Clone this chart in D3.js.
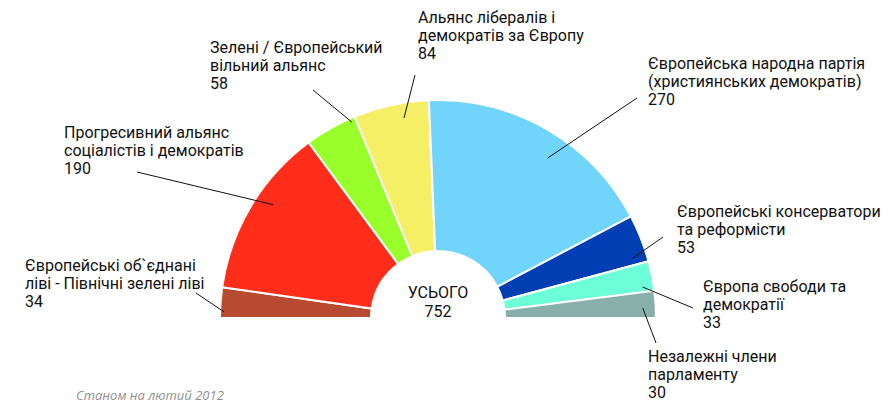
<!DOCTYPE html>
<html><head><meta charset="utf-8">
<script src="https://cdn.jsdelivr.net/npm/d3@7"></script>
<style>
body{margin:0;background:#fff;}
svg{display:block;}
.lbl{font-family:"Roboto","DejaVu Sans Condensed",sans-serif;font-size:16px;fill:#111;}
</style></head>
<body>
<script>
const categories = [
  ["Європейські об`єднані", "ліві - Північні зелені ліві"],
  ["Прогресивний альянс", "соціалістів і демократів"],
  ["Зелені / Європейський", "вільний альянс"],
  ["Альянс лібералів і", "демократів за Європу"],
  ["Європейська народна партія", "(християнських демократів)"],
  ["Європейські консерватори", "та реформісти"],
  ["Європа свободи та", "демократії"],
  ["Незалежні члени", "парламенту"]
];
const seats = [34, 190, 58, 84, 270, 53, 33, 30];
const colors = ["#b94a32", "#ff2d19", "#99ff2a", "#f5ef66", "#70d4fb", "#003eb3", "#6cffd8", "#89afab"];
const totalLabel = "УСЬОГО";
const footnote = "Станом на лютий 2012";

// layout: label x, first baseline, leader start, leader end (fraction within slice, radius)
const layout = [
  {x:25,  y:271, sx:196, sy:293, f:0.2,  r:214},
  {x:64,  y:138, sx:137, sy:172, f:0.58, r:200},
  {x:210, y:53,  sx:313, sy:90,  f:0.91, r:214},
  {x:418, y:23,  sx:415, sy:75,  f:0.64, r:203},
  {x:648, y:69,  sx:637, sy:98,  f:0.57, r:194},
  {x:677, y:217, sx:663, sy:237, f:0.84, r:204},
  {x:703, y:292, sx:693, sy:308, f:0.82, r:207},
  {x:648, y:362, sx:656, sy:343, f:0.61, r:205}
];

const W = 888, H = 403, cx = 438, cy = 318, rIn = 67, rOut = 218, lh = 18;
const svg = d3.select("body").append("svg").attr("width", W).attr("height", H);

const pie = d3.pie().sort(null).startAngle(-Math.PI/2).endAngle(Math.PI/2);
const arcs = pie(seats);
const arc = d3.arc().innerRadius(rIn).outerRadius(rOut);
const g = svg.append("g").attr("transform", `translate(${cx},${cy})`);
g.selectAll("path").data(arcs).join("path")
  .attr("d", arc).attr("fill", (d,i) => colors[i])
  .attr("stroke", "#fff").attr("stroke-width", 2).attr("stroke-linejoin", "miter");

// leader lines
arcs.forEach((d,i) => {
  const L = layout[i];
  const a = d.startAngle + L.f * (d.endAngle - d.startAngle);
  const ex = cx + L.r * Math.sin(a), ey = cy - L.r * Math.cos(a);
  svg.append("line").attr("x1", L.sx).attr("y1", L.sy).attr("x2", ex).attr("y2", ey)
    .attr("stroke", "#111").attr("stroke-width", 1);
});

// labels
categories.forEach((c,i) => {
  const L = layout[i];
  const t = svg.append("text").attr("class", "lbl").attr("x", L.x).attr("y", L.y);
  [...c, String(seats[i])].forEach((s,k) => {
    t.append("tspan").attr("x", L.x).attr("y", L.y + k*lh).text(s);
  });
});

// total
const total = d3.sum(seats);
svg.append("text").attr("class","lbl").attr("x", cx).attr("y", 298).attr("text-anchor","middle")
  .style("font-size","16px").text(totalLabel);
svg.append("text").attr("class","lbl").attr("x", cx).attr("y", 317).attr("text-anchor","middle")
  .style("font-size","16px").text(total);

svg.append("text").attr("x", 76).attr("y", 400)
  .attr("font-family", "'Open Sans','Liberation Sans',sans-serif").attr("font-style","italic")
  .attr("font-size", 13).attr("fill", "#8f8f8f").text(footnote);
</script>
</body></html>
